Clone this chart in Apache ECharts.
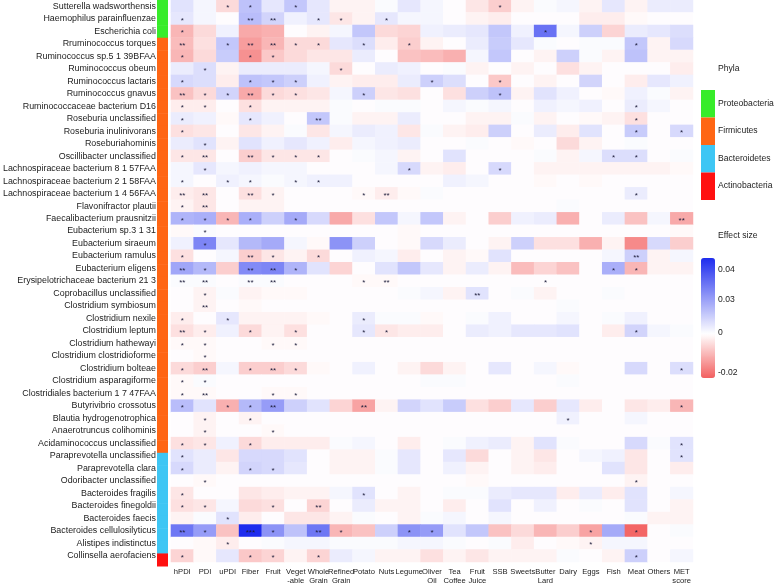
<!DOCTYPE html>
<html><head><meta charset="utf-8">
<script src="https://cdn.jsdelivr.net/npm/echarts@6/dist/echarts.min.js"></script>
<style>html,body{margin:0;padding:0;background:#fff}#c{width:775px;height:586px}</style>
</head><body><div id="c"></div>
<script>
const taxa = ['Sutterella wadsworthensis','Haemophilus parainfluenzae','Escherichia coli','Rruminococcus torques','Ruminococcus sp.5 1 39BFAA','Ruminococcus obeum','Ruminococcus lactaris','Ruminococcus gnavus','Ruminococcaceae bacterium D16','Roseburia unclassified','Roseburia inulinivorans','Roseburiahominis','Oscillibacter unclassified','Lachnospiraceae bacterium 8 1 57FAA','Lachnospiraceae bacterium 2 1 58FAA','Lachnospiraceae bacterium 1 4 56FAA','Flavonifractor plautii','Faecalibacterium prausnitzii','Eubacterium sp.3 1 31','Eubacterium siraeum','Eubacterium ramulus','Eubacterium eligens','Erysipelotrichaceae bacterium 21 3','Coprobacillus unclassified','Clostridium symbiosum','Clostridium nexile','Clostridium leptum','Clostridium hathewayi','Clostridium clostridioforme','Clostridium bolteae','Clostridium asparagiforme','Clostridiales bacterium 1 7 47FAA','Butyrivibrio crossotus','Blautia hydrogenotrophica','Anaerotruncus colihominis','Acidaminococcus unclassified','Paraprevotella unclassified','Paraprevotella clara','Odoribacter unclassified','Bacteroides fragilis','Bacteroides finegoldii','Bacteroides faecis','Bacteroides cellulosilyticus','Alistipes indistinctus','Collinsella aerofaciens'];
const foods = ['hPDI','PDI','uPDI','Fiber','Fruit','Veget\n-able','Whole\nGrain','Refined\nGrain','Potato','Nuts','Legume','Oliver\nOil','Tea\nCoffee','Fruit\nJuice','SSB','Sweets','Butter\nLard','Dairy','Eggs','Fish','Meat','Others','MET\nscore'];
const phylaNames = ['Proteobacteria','Firmicutes','Bacteroidetes','Actinobacteria'];
const phylaCounts = [3,33,8,1];
const phylaColors = ['#37ec2a','#ff6614','#3ec6f4','#ff1010'];

// effect sizes: one row per taxon, columns in the order of `foods`
const effect = [
[.006,.002,-.006,.013,.005,.012,.005,-.002,-.002,.001,.005,.002,0,-.004,-.008,-.002,.001,.002,-.002,.005,-.002,.004,.004],
[.005,.002,0,.014,.009,.003,.005,-.004,-.002,.005,.002,.002,0,-.002,-.003,0,0,0,-.003,-.003,-.001,0,0],
[-.012,-.006,.003,-.014,-.013,0,-.002,.002,.012,-.006,-.007,.003,.004,.005,.012,.003,.03,.002,.01,-.007,.004,.005,.007],
[-.011,-.005,.012,-.016,-.012,-.006,-.006,.005,.007,-.003,-.008,-.002,0,.004,.011,.005,.001,0,.001,.001,.012,-.002,.008],
[-.012,-.006,.011,-.018,-.009,-.006,-.004,-.004,.004,0,-.01,-.011,-.013,.002,.012,0,-.002,.01,.001,-.002,.013,-.002,-.002],
[.004,.007,-.002,.004,.004,.004,.002,-.006,0,.004,.003,0,.001,-.002,0,-.002,0,-.005,-.002,0,0,0,-.003],
[.008,.007,-.003,.013,.012,.01,.003,-.002,-.003,-.003,.004,.01,.007,0,-.009,0,-.002,0,.009,0,-.003,.005,.003],
[-.01,-.006,.009,-.014,-.006,-.005,-.004,.002,.01,-.004,-.005,0,-.005,.01,.013,-.002,.006,.003,0,-.001,.003,.001,-.002],
[-.003,-.003,0,-.005,-.002,-.002,-.002,.001,0,.001,.001,0,.002,.001,.002,0,.003,.002,.003,0,.004,.002,0],
[.004,.003,-.001,.005,.003,0,.012,.001,-.002,-.002,.004,0,0,-.002,-.002,.001,-.002,0,-.001,-.002,-.005,0,0],
[-.005,-.004,0,-.004,-.002,.001,-.004,.002,.004,.003,-.004,.001,-.002,-.003,.01,0,.004,-.003,.006,0,.011,0,.008],
[.004,.006,-.002,.006,.003,.005,.003,-.003,.002,.003,.004,0,0,.001,0,-.001,0,-.006,-.002,0,.001,0,0],
[-.004,-.004,0,-.008,-.004,-.004,-.004,0,.001,.002,-.002,0,.006,0,0,0,.001,-.002,.002,.007,.007,0,.001],
[.002,.005,.002,.003,.002,.002,0,0,0,.002,.008,-.002,-.003,0,.008,0,-.002,-.002,-.002,-.002,-.002,-.002,-.001],
[.002,0,.003,.002,.001,.002,.003,.003,0,0,0,0,.003,.002,0,0,-.001,0,-.001,0,0,0,0],
[-.003,-.004,0,-.005,-.002,0,0,0,-.001,-.003,-.001,.001,0,0,0,0,0,0,0,0,.004,0,0],
[-.002,-.004,0,-.002,-.002,0,0,0,0,0,0,0,0,0,0,0,0,.001,0,0,0,0,0],
[.016,.017,-.012,.017,.01,.018,.008,-.014,-.005,.012,.002,.012,-.002,0,-.008,.003,.004,-.013,0,.004,-.01,.002,-.014],
[-.001,.001,0,0,0,0,0,0,0,0,-.001,0,0,0,0,0,0,0,0,0,0,0,-.001],
[.003,.026,.005,.015,.018,.002,-.001,.023,.01,0,-.001,.008,.004,0,-.002,.01,-.005,-.005,-.013,-.002,-.019,.008,-.008],
[-.005,0,.002,-.008,-.004,-.002,-.006,0,.003,.002,-.003,0,-.002,-.001,.006,0,0,0,0,.002,.01,-.002,.002],
[.019,.015,-.008,.025,.026,.016,.006,-.007,0,.006,.012,.005,-.002,.004,-.002,-.011,-.007,-.01,0,.017,-.012,-.002,-.002],
[.001,.001,0,.001,.001,0,0,0,-.001,-.001,0,0,0,0,0,0,0,0,0,0,0,0,0],
[0,-.002,.001,-.002,-.001,-.001,0,0,0,0,.001,.002,-.002,.006,0,.001,-.002,0,0,.001,0,0,0],
[0,-.002,0,-.001,0,0,0,0,0,0,0,0,0,0,0,0,0,.001,0,0,0,0,0],
[-.003,0,.005,-.002,-.002,-.002,-.001,0,.004,.001,.001,-.001,0,.001,.003,0,0,.002,0,.001,.003,0,0],
[-.005,-.003,.003,-.006,-.002,-.005,0,0,.005,-.004,-.003,-.003,0,.004,.003,.005,.005,.006,0,-.003,.009,.002,.001],
[-.001,-.001,0,0,-.001,-.001,0,0,0,0,0,0,0,0,0,0,0,0,0,0,0,0,0],
[0,-.001,0,0,0,0,0,0,0,0,0,0,0,0,0,0,0,0,0,0,0,0,0],
[-.006,-.008,.002,-.008,-.008,-.006,-.001,0,.003,0,-.002,-.006,-.002,0,.005,0,.002,-.001,0,0,.008,0,.007],
[-.001,.001,0,0,0,0,0,0,0,0,0,.001,.001,0,0,0,0,.001,0,0,0,0,0],
[-.001,-.001,0,0,-.001,-.001,0,0,0,0,0,0,0,0,0,0,0,0,0,0,0,0,0],
[.014,.006,-.013,.015,.021,.01,.006,-.007,-.015,-.002,.009,.006,.011,-.005,-.008,.005,-.008,.005,-.003,0,-.004,-.003,-.012],
[0,-.002,0,-.002,0,0,0,0,0,0,0,0,0,0,0,0,0,.003,0,0,.002,0,0],
[0,-.002,0,0,-.001,0,0,0,0,0,0,0,0,0,0,0,0,0,0,0,0,0,0],
[-.005,-.004,.003,-.006,-.003,-.003,-.003,.001,.002,0,-.003,0,.001,.003,.004,-.002,.006,.001,0,0,.008,.001,.006],
[.006,.004,-.004,.008,.008,.006,0,-.002,-.002,.001,.005,0,.005,-.006,0,-.002,-.004,0,.002,.003,-.004,0,.006],
[.008,.004,-.002,.009,.008,.005,0,-.002,-.002,.001,.005,0,.003,-.002,0,-.002,-.003,0,0,.006,-.004,0,-.003],
[0,-.001,0,0,0,0,0,0,0,0,0,0,0,-.001,0,0,0,0,0,0,-.002,0,0],
[-.004,0,0,-.004,-.003,-.002,-.002,.002,.006,0,-.002,0,.001,.001,.004,.005,.005,-.003,.004,-.003,.006,0,.002],
[-.005,-.004,.002,-.006,-.005,0,-.007,0,.004,-.002,-.002,0,-.003,0,.006,0,.003,0,.001,0,.006,0,-.002],
[-.002,.001,.006,-.003,0,-.004,-.004,-.002,.001,0,-.002,.001,.002,0,.002,0,0,0,0,0,.001,-.002,-.002],
[.029,.021,-.01,.045,.023,.013,.029,-.012,-.01,.01,.023,.021,.006,.012,-.01,-.006,-.012,-.008,-.015,.018,-.025,0,.001],
[0,-.001,-.003,0,.001,.002,.002,.001,.001,.001,.002,.002,.001,0,.001,-.003,0,-.001,-.002,.002,.002,0,0],
[-.007,-.001,.005,-.009,-.007,-.002,-.007,.004,.002,-.002,-.002,-.005,-.002,-.004,-.002,-.002,-.002,.001,0,-.002,.01,0,.002]
];

// significance marks: per taxon, [food index, mark]
const marks = [
[[2,'*'],[3,'*'],[5,'*'],[14,'*']],
[[0,'*'],[3,'**'],[4,'**'],[6,'*'],[7,'*'],[9,'*']],
[[0,'*'],[16,'*']],
[[0,'**'],[2,'*'],[3,'**'],[4,'**'],[5,'*'],[6,'*'],[8,'*'],[10,'*'],[20,'*']],
[[0,'*'],[3,'*'],[4,'*']],
[[1,'*'],[7,'*']],
[[0,'*'],[3,'*'],[4,'*'],[5,'*'],[11,'*'],[14,'*']],
[[0,'**'],[1,'*'],[2,'*'],[3,'**'],[4,'*'],[5,'*'],[8,'*'],[14,'*']],
[[0,'*'],[1,'*'],[3,'*'],[20,'*']],
[[0,'*'],[3,'*'],[6,'**'],[20,'*']],
[[0,'*'],[20,'*'],[22,'*']],
[[1,'*']],
[[0,'*'],[1,'**'],[3,'**'],[4,'*'],[5,'*'],[6,'*'],[19,'*'],[20,'*']],
[[1,'*'],[10,'*'],[14,'*']],
[[0,'*'],[2,'*'],[3,'*'],[5,'*'],[6,'*']],
[[0,'**'],[1,'**'],[3,'**'],[4,'*'],[8,'*'],[9,'**'],[20,'*']],
[[0,'*'],[1,'**']],
[[0,'*'],[1,'*'],[2,'*'],[3,'*'],[5,'*'],[22,'**']],
[[1,'*']],
[[1,'*']],
[[0,'*'],[3,'**'],[4,'*'],[6,'*'],[20,'**']],
[[0,'**'],[1,'*'],[3,'**'],[4,'**'],[5,'*'],[19,'*'],[20,'*']],
[[0,'**'],[1,'**'],[3,'**'],[4,'**'],[8,'*'],[9,'**'],[16,'*']],
[[1,'*'],[13,'**']],
[[1,'**']],
[[0,'*'],[2,'*'],[8,'*']],
[[0,'**'],[1,'*'],[3,'*'],[5,'*'],[8,'*'],[9,'*'],[20,'*']],
[[0,'*'],[1,'*'],[4,'*'],[5,'*']],
[[1,'*']],
[[0,'*'],[1,'**'],[3,'*'],[4,'**'],[5,'*'],[22,'*']],
[[0,'*'],[1,'*']],
[[0,'*'],[1,'**'],[4,'*'],[5,'*']],
[[0,'*'],[2,'*'],[3,'*'],[4,'**'],[8,'**'],[22,'*']],
[[1,'*'],[3,'*'],[17,'*']],
[[1,'*'],[4,'*']],
[[0,'*'],[1,'*'],[3,'*'],[22,'*']],
[[0,'*'],[22,'*']],
[[0,'*'],[3,'*'],[4,'*']],
[[1,'*'],[20,'*']],
[[0,'*'],[8,'*']],
[[0,'*'],[1,'*'],[4,'*'],[6,'**']],
[[2,'*']],
[[0,'**'],[1,'*'],[3,'***'],[4,'*'],[6,'**'],[7,'*'],[10,'*'],[11,'*'],[18,'*'],[20,'*']],
[[2,'*'],[18,'*']],
[[0,'*'],[3,'*'],[4,'*'],[6,'*'],[20,'*']]
];

const legendTicks = ['0.04','0.03','0','-0.02'];
const scaleMin = -0.026, scaleMax = 0.045;

// ---- build ----
const FONT = '"Liberation Sans", Arial, sans-serif';
const heatData = [];
effect.forEach((row, r) => {
  const m = {};
  marks[r].forEach(([c, s]) => { m[c] = s; });
  row.forEach((v, c) => heatData.push([c, r, v, m[c] || '']));
});
const phylumOfRow = [];
phylaCounts.forEach((n, i) => { for (let k = 0; k < n; k++) phylumOfRow.push(i); });
const barData = taxa.map((t, r) => [0, r, phylumOfRow[r]]);

const negEnd = [242, 96, 96], posEnd = [30, 44, 238];
const ramp = [];
const N = 70;
for (let i = 0; i <= N; i++) {
  const v = scaleMin + (scaleMax - scaleMin) * i / N;
  const e = v < 0 ? negEnd : posEnd;
  const t = v < 0 ? v / scaleMin : v / scaleMax;
  const c = e.map(x => Math.round(255 + (x - 255) * t));
  ramp.push('rgb(' + c.join(',') + ')');
}

const G = {left: 168, right: 82, top: 0, bottom: 20};
const chart = echarts.init(document.getElementById('c'), null, {renderer: 'canvas'});

const legendX = 701, legendTextX = 718;
const LF = '8.6px ' + FONT;
const graphics = [
  {type: 'text', left: legendTextX, top: 64, style: {text: 'Phyla', font: LF, fill: '#222'}},
  {type: 'text', left: legendTextX, top: 231, style: {text: 'Effect size', font: LF, fill: '#222'}}
];
const boxTop = 90, boxH = 27.5;
phylaNames.forEach((p, i) => {
  graphics.push({type: 'rect', shape: {x: legendX, y: boxTop + i * boxH, width: 14, height: boxH}, style: {fill: phylaColors[i]}});
  graphics.push({type: 'text', left: legendTextX, top: boxTop + i * boxH + boxH * 0.5 - 5, style: {text: p, font: LF, fill: '#222'}});
});
const tickY = [270, 300, 333, 373];
legendTicks.forEach((t, i) => {
  graphics.push({type: 'text', left: legendTextX, top: tickY[i] - 5, style: {text: t, font: LF, fill: '#222'}});
});

chart.setOption({
  backgroundColor: '#fff',
  animation: false,
  textStyle: {fontFamily: FONT},
  grid: [
    G,
    {left: 157, width: 11, top: G.top, bottom: G.bottom}
  ],
  xAxis: [
    {type: 'category', data: foods, gridIndex: 0, position: 'bottom',
     axisLine: {show: false}, axisTick: {show: false}, splitLine: {show: false},
     axisLabel: {interval: 0, fontSize: 7.6, lineHeight: 9.5, color: '#222', margin: 5, fontFamily: FONT}},
    {type: 'category', data: ['phyla'], gridIndex: 1, show: false}
  ],
  yAxis: [
    {type: 'category', data: taxa, gridIndex: 0, inverse: true,
     axisLine: {show: false}, axisTick: {show: false}, splitLine: {show: false},
     axisLabel: {interval: 0, fontSize: 8.9, color: '#222', margin: 15, fontFamily: FONT}},
    {type: 'category', data: taxa, gridIndex: 1, inverse: true, show: false}
  ],
  visualMap: {
    type: 'continuous', seriesIndex: 0, dimension: 2,
    min: scaleMin, max: scaleMax, calculable: false, orient: 'vertical',
    left: legendX, top: 258, itemWidth: 14, itemHeight: 120, padding: 0,
    text: null, showLabel: false, hoverLink: false,
    inRange: {color: ramp}
  },
  graphic: graphics,
  series: [
    {type: 'heatmap', xAxisIndex: 0, yAxisIndex: 0, data: heatData,
     label: {show: true, formatter: p => p.value[3], fontSize: 8, color: '#1c1c3a', offset: [0, 2]},
     itemStyle: {borderWidth: 0},
     emphasis: {disabled: true}},
    {type: 'custom', xAxisIndex: 1, yAxisIndex: 1, data: barData,
     renderItem: (params, api) => {
       const p = api.coord([0, api.value(1)]);
       const s = api.size([1, 1]);
       return {type: 'rect', shape: {x: p[0] - s[0] / 2, y: p[1] - s[1] / 2, width: s[0], height: s[1] + 0.5},
               style: {fill: phylaColors[api.value(2)]}};
     }}
  ]
});
</script>
</body></html>
